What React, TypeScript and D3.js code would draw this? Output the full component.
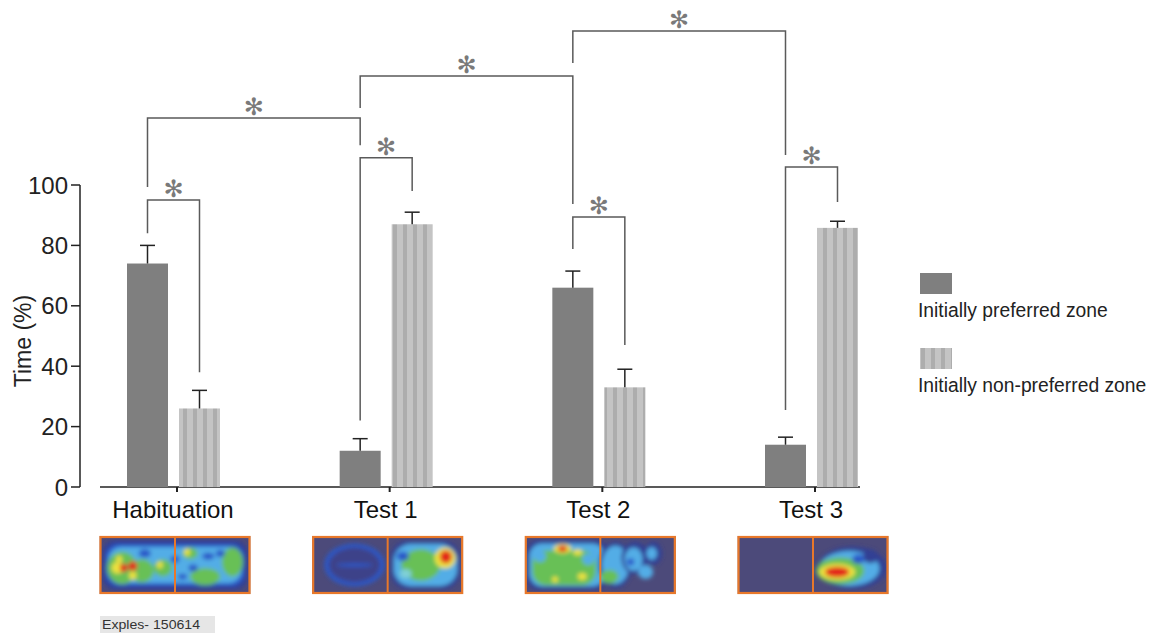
import { scaleBand, scaleLinear, scalePoint } from "d3";

const categories = ["Habituation", "Test 1", "Test 2", "Test 3"];
const seriesNames = ["Initially preferred zone", "Initially non-preferred zone"];
const preferred = [74, 12, 66, 14];
const preferredErr = [80, 16, 71.5, 16.5];
const nonPreferred = [26, 87, 33, 85.8];
const nonPreferredErr = [32, 91, 39, 88];
const yTicks = [0, 20, 40, 60, 80, 100];

// significance brackets: [category, series] ends, bar level and leg ends (in % units)
const brackets = [
  { from: [0, 0], to: [0, 1], level: 95, legs: [84, 38] },
  { from: [1, 0], to: [1, 1], level: 109, legs: [22, 98] },
  { from: [2, 0], to: [2, 1], level: 89.4, legs: [78.8, 47] },
  { from: [3, 0], to: [3, 1], level: 106, legs: [25.5, 94.4] },
  { from: [0, 0], to: [1, 0], level: 122.2, legs: [99.3, 113.2] },
  { from: [1, 0], to: [2, 0], level: 136.1, legs: [125.5, 93.7] },
  { from: [2, 0], to: [3, 0], level: 151, legs: [140.4, 109.9] },
];

// heat map blobs per session: [x, y, rx, ry, level, roundness] in panel fractions
const heatColors = ["#333f94", "#2c58c8", "#52ade6", "#7fd0d6", "#68c056", "#ece23e", "#e3261c", "#3c4389"];
const heatHabituation = [
  [0.5, 0.5, 0.48, 0.43, 0, 0.5], [0.5, 0.5, 0.46, 0.36, 1, 0.6], [0.5, 0.5, 0.44, 0.31, 2, 0.7],
  [0.15, 0.55, 0.1, 0.28, 4, 1], [0.28, 0.6, 0.08, 0.2, 4, 1], [0.42, 0.55, 0.06, 0.15, 4, 1],
  [0.7, 0.7, 0.1, 0.15, 4, 1], [0.88, 0.45, 0.07, 0.25, 4, 1], [0.6, 0.3, 0.05, 0.1, 4, 1],
  [0.3, 0.3, 0.04, 0.07, 1, 1], [0.5, 0.4, 0.03, 0.06, 1, 1], [0.62, 0.55, 0.03, 0.06, 1, 1],
  [0.72, 0.35, 0.04, 0.06, 1, 1], [0.55, 0.7, 0.03, 0.05, 1, 1], [0.8, 0.3, 0.03, 0.06, 1, 1],
  [0.12, 0.55, 0.04, 0.1, 5, 1], [0.16, 0.55, 0.025, 0.07, 6, 1], [0.22, 0.52, 0.03, 0.08, 6, 1],
  [0.22, 0.68, 0.025, 0.07, 5, 1], [0.13, 0.4, 0.02, 0.06, 5, 1], [0.4, 0.5, 0.02, 0.06, 5, 1],
  [0.58, 0.28, 0.02, 0.06, 5, 1],
];
const heatTest1 = [
  [0.28, 0.5, 0.2, 0.37, 1, 1], [0.28, 0.5, 0.17, 0.3, 7, 1], [0.28, 0.5, 0.12, 0.03, 1, 1],
  [0.75, 0.5, 0.23, 0.42, 0, 0.7], [0.75, 0.5, 0.21, 0.36, 2, 0.8], [0.72, 0.5, 0.13, 0.27, 4, 1],
  [0.6, 0.35, 0.04, 0.08, 1, 1], [0.62, 0.65, 0.04, 0.08, 3, 1], [0.88, 0.38, 0.07, 0.18, 5, 1],
  [0.885, 0.36, 0.04, 0.11, 6, 1],
];
const heatTest2 = [
  [0.28, 0.5, 0.27, 0.43, 0, 0.5], [0.28, 0.5, 0.25, 0.37, 2, 0.6], [0.26, 0.55, 0.21, 0.3, 4, 0.8],
  [0.1, 0.35, 0.04, 0.1, 2, 1], [0.42, 0.4, 0.04, 0.1, 2, 1],
  [0.25, 0.22, 0.06, 0.08, 5, 1], [0.25, 0.22, 0.03, 0.05, 6, 1], [0.35, 0.28, 0.03, 0.05, 5, 1],
  [0.38, 0.7, 0.03, 0.06, 5, 1], [0.2, 0.75, 0.02, 0.05, 5, 1], [0.6, 0.5, 0.11, 0.4, 0, 1],
  [0.6, 0.5, 0.09, 0.33, 2, 1], [0.56, 0.7, 0.06, 0.12, 4, 1], [0.73, 0.38, 0.09, 0.28, 0, 1],
  [0.72, 0.4, 0.06, 0.2, 2, 1], [0.7, 0.45, 0.025, 0.06, 1, 1], [0.85, 0.3, 0.06, 0.2, 0, 1],
  [0.84, 0.3, 0.035, 0.11, 2, 1], [0.8, 0.62, 0.05, 0.12, 2, 1],
];
const heatTest3 = [
  [0.76, 0.55, 0.23, 0.37, 0, 1], [0.74, 0.56, 0.2, 0.3, 2, 1], [0.68, 0.6, 0.16, 0.23, 4, 1],
  [0.66, 0.62, 0.12, 0.14, 5, 1], [0.66, 0.62, 0.08, 0.09, 6, 1], [0.88, 0.35, 0.05, 0.12, 0, 1],
  [0.8, 0.4, 0.04, 0.08, 1, 1],
];
const heatmaps = [heatHabituation, heatTest1, heatTest2, heatTest3];

const FONT = "'Liberation Sans', Arial, sans-serif";
const DARK = "#7f7f7f";
const LINE = "#5a5a5a";

export default function App() {
  const width = 1152;
  const height = 633;
  const y = scaleLinear().domain([0, 100]).range([487, 185]);
  const x = scalePoint<string>().domain(categories).range([177, 815]);
  const inner = scaleBand<number>().domain([0, 1]).range([-50, 43]).paddingInner(0.2115);
  const bw = inner.bandwidth();
  const values = [preferred, nonPreferred];
  const errs = [preferredErr, nonPreferredErr];
  const barCenter = (c: number, s: number) => x(categories[c])! + inner(s)! + bw / 2;
  const panelW = 151;
  const panelH = 58;

  return (
    <div style={{ position: "absolute", left: 0, top: 0 }}>
      <svg width={width} height={height} style={{ display: "block", background: "#fff" }} fontFamily={FONT}>
        <defs>
          <pattern id="stripes" patternUnits="userSpaceOnUse" width={10} height={10}>
            <rect width={10} height={10} fill="#c4c4c4" />
            <rect x={3} width={4} height={10} fill="#adadad" />
          </pattern>
          <filter id="soft" x="-20%" y="-20%" width="140%" height="140%">
            <feGaussianBlur stdDeviation={1.9} />
          </filter>
          {categories.map((c, i) => (
            <clipPath id={`clip${i}`} key={c}>
              <rect width={panelW} height={panelH} />
            </clipPath>
          ))}
        </defs>

        {/* y axis */}
        <line x1={80} x2={80} y1={y(100)} y2={y(0)} stroke="#222" strokeWidth={1.5} />
        {yTicks.map((t) => (
          <g key={t}>
            <line x1={71} x2={80} y1={y(t)} y2={y(t)} stroke="#222" strokeWidth={1.5} />
            <text x={68} y={y(t)} dy="0.36em" textAnchor="end" fontSize={24} fill="#222">
              {t}
            </text>
          </g>
        ))}
        <text transform="translate(31,341) rotate(-90)" textAnchor="middle" fontSize={23} fill="#222">
          Time (%)
        </text>

        {/* x axis */}
        <line x1={100} x2={860} y1={y(0)} y2={y(0)} stroke="#222" strokeWidth={1.5} />
        {categories.map((c) => (
          <g key={c}>
            <line x1={x(c)} x2={x(c)} y1={y(0)} y2={y(0) + 5} stroke="#222" strokeWidth={2} />
            <text x={x(c)! - 4} y={518} textAnchor="middle" fontSize={24} fill="#111">
              {c}
            </text>
          </g>
        ))}

        {/* bars */}
        {categories.map((c, ci) =>
          [0, 1].map((s) => {
            const x0 = x(c)! + inner(s)!;
            const cx = x0 + bw / 2;
            return (
              <g key={`${c}-${s}`}>
                <rect
                  x={x0}
                  y={y(values[s][ci])}
                  width={bw}
                  height={y(0) - y(values[s][ci])}
                  fill={s === 0 ? DARK : "url(#stripes)"}
                />
                <line x1={cx} x2={cx} y1={y(values[s][ci])} y2={y(errs[s][ci])} stroke="#222" strokeWidth={1.5} />
                <line x1={cx - 7.5} x2={cx + 7.5} y1={y(errs[s][ci])} y2={y(errs[s][ci])} stroke="#222" strokeWidth={1.5} />
              </g>
            );
          })
        )}

        {/* significance brackets */}
        {brackets.map((b, i) => {
          const xa = barCenter(b.from[0], b.from[1]);
          const xb = barCenter(b.to[0], b.to[1]);
          const yl = y(b.level);
          return (
            <g key={i}>
              <path
                d={`M${xa},${y(b.legs[0])}V${yl}H${xb}V${y(b.legs[1])}`}
                fill="none"
                stroke={LINE}
                strokeWidth={1.5}
              />
              <text
                x={(xa + xb) / 2}
                y={yl - 11}
                textAnchor="middle"
                dominantBaseline="central"
                fontFamily="'DejaVu Sans', sans-serif"
                fontSize={24}
                fill="#7a7a7a"
              >
                ✻
              </text>
            </g>
          );
        })}

        {/* legend */}
        {seriesNames.map((name, i) => (
          <g key={name} transform={`translate(918, ${273 + i * 75})`}>
            <rect x={2} width={32} height={21} fill={i === 0 ? DARK : "url(#stripes)"} />
            <text x={0} y={44} fontSize={19.3} fill="#222">
              {name}
            </text>
          </g>
        ))}

        {/* tracking heat maps */}
        {categories.map((c, i) => (
          <g key={c} transform={`translate(${x(c)! - panelW / 2 - 2}, 536)`}>
            <g clipPath={`url(#clip${i})`}>
              <rect width={panelW} height={panelH} fill="#4c4a7a" />
              <g filter="url(#soft)">
                {heatmaps[i].map((h, k) => {
                  const rx = h[2] * panelW;
                  const ry = h[3] * panelH;
                  const r = Math.min(rx, ry) * h[5];
                  return (
                    <rect
                      key={k}
                      x={h[0] * panelW - rx}
                      y={h[1] * panelH - ry}
                      width={rx * 2}
                      height={ry * 2}
                      rx={h[5] === 1 ? rx : r}
                      ry={h[5] === 1 ? ry : r}
                      fill={heatColors[h[4]]}
                    />
                  );
                })}
              </g>
            </g>
            <rect x={1} y={1} width={panelW - 2} height={panelH - 2} fill="none" stroke="#e8782a" strokeWidth={2.2} />
            <line x1={panelW / 2} x2={panelW / 2} y1={1} y2={panelH - 1} stroke="#e8782a" strokeWidth={2} />
          </g>
        ))}

        {/* footer tag */}
        <rect x={100} y={616} width={115} height={17} fill="#e6e6e6" />
        <text x={102} y={629} fontSize={13} textLength={98} lengthAdjust="spacingAndGlyphs" fill="#333">
          Exples- 150614
        </text>
      </svg>
    </div>
  );
}
